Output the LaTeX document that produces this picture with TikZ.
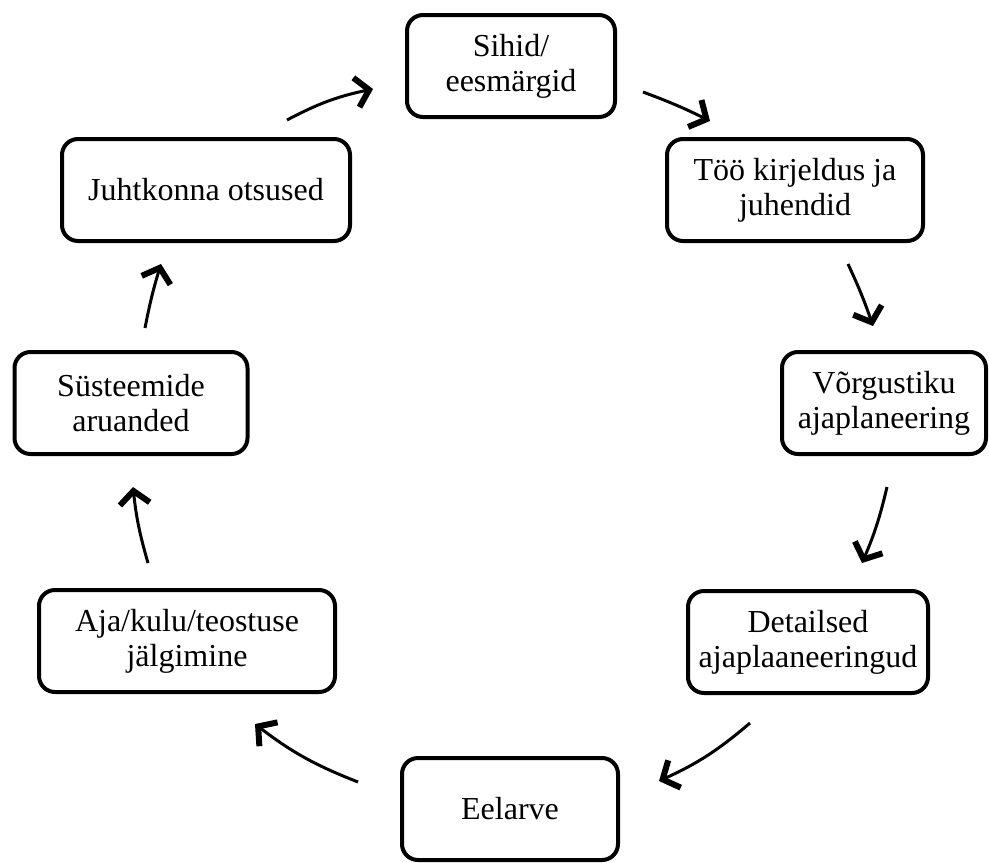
\documentclass[tikz,border=0pt]{standalone}
\usepackage{fontspec}
\setmainfont{Liberation Serif}
\usetikzlibrary{arrows.meta,positioning}

\begin{document}
\begin{tikzpicture}[x=1pt,y=-1pt,
  font=\fontsize{32}{35}\selectfont,
  stage/.style={draw,line width=4pt,rounded corners=16pt,minimum height=102pt,align=center,inner sep=0pt},
  arr/.style={-{Straight Barb[length=13pt,width=30pt,line width=6pt]},line width=3pt,bend left=8}]
\useasboundingbox (0,0) rectangle (989,863);
\node[stage,minimum width=208pt] (sihid) at (511,66) {Sihid/\\eesmärgid};
\node[stage,minimum width=256pt] (too) at (795,190) {Töö kirjeldus ja\\juhendid};
\node[stage,minimum width=204pt] (vorg) at (884,403) {Võrgustiku\\ajaplaneering};
\node[stage,minimum width=240pt] (detail) at (808,642) {Detailsed\\ajaplaaneeringud};
\node[stage,minimum width=216pt] (eelarve) at (510,809) {Eelarve};
\node[stage,minimum width=296pt] (jalg) at (187,641) {Aja/kulu/teostuse\\jälgimine};
\node[stage,minimum width=233pt] (aruand) at (131,403) {Süsteemide\\aruanded};
\node[stage,minimum width=288pt] (otsus) at (206,190) {Juhtkonna otsused};
% arrow ends between the boxes
\coordinate (s1) at (287,120); \coordinate (e1) at (373,89);
\coordinate (s2) at (643,92);  \coordinate (e2) at (710,121);
\coordinate (s3) at (848,264); \coordinate (e3) at (873,326);
\coordinate (s4) at (887,487); \coordinate (e4) at (862,563);
\coordinate (s5) at (750,723); \coordinate (e5) at (659,781);
\coordinate (s6) at (358,782); \coordinate (e6) at (255,724);
\coordinate (s7) at (148,563); \coordinate (e7) at (133,487);
\coordinate (s8) at (145,328); \coordinate (e8) at (161,264);
\draw[arr] (s1) to (e1);
\draw[arr,bend left=3] (s2) to (e2);
\draw[arr,bend left=3] (s3) to (e3);
\draw[arr,bend left=5] (s4) to (e4);
\draw[arr] (s5) to (e5);
\draw[arr] (s6) to (e6);
\draw[arr,bend left=5] (s7) to (e7);
\draw[arr,bend left=3] (s8) to (e8);
\end{tikzpicture}
\end{document}
